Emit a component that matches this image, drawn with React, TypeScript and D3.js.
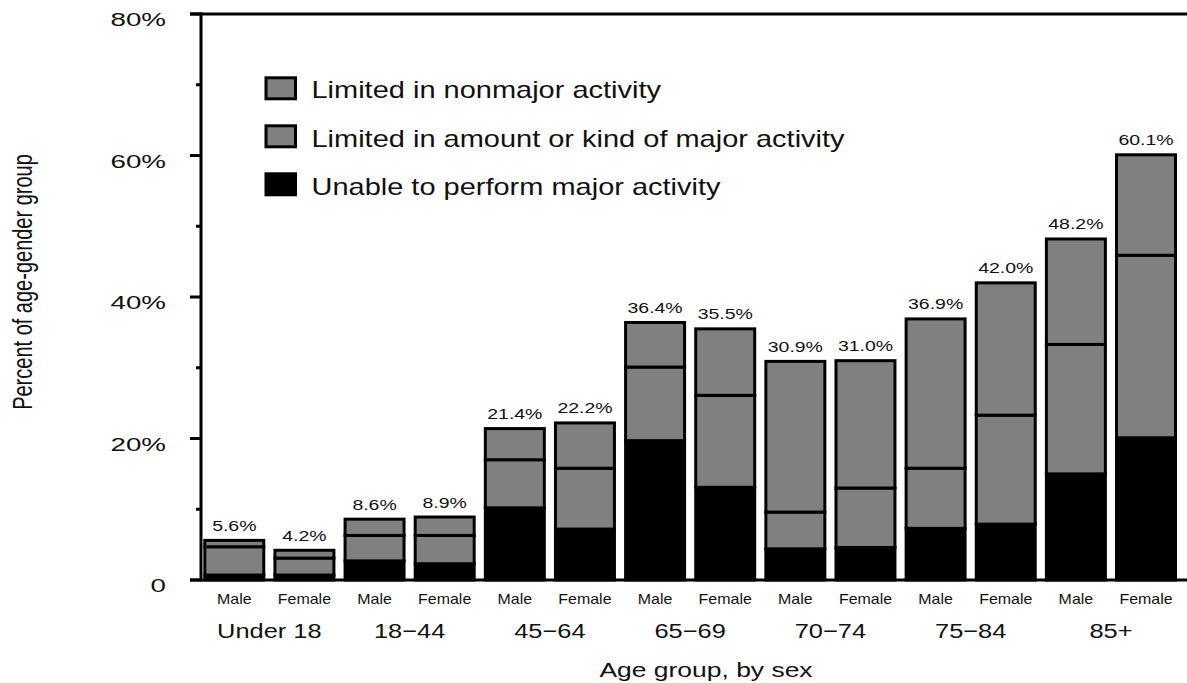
import React from "react";
import * as d3 from "d3";

const ageGroups = ["Under 18", "18\u221244", "45\u221264", "65\u221269", "70\u221274", "75\u221284", "85+"];
const sexes = ["Male", "Female"];
// per bar (Male, Female alternating per age group), percent of age-gender group
const unable = [0.7, 0.7, 2.7, 2.3, 10.2, 7.2, 19.7, 13.1, 4.4, 4.6, 7.3, 7.9, 15.0, 20.1];
const amountKind = [4.0, 2.4, 3.6, 4.0, 6.8, 8.6, 10.4, 13.0, 5.2, 8.4, 8.5, 15.4, 18.3, 25.8];
const nonmajor = [0.9, 1.1, 2.3, 2.6, 4.4, 6.4, 6.3, 9.4, 21.3, 18.0, 21.1, 18.7, 14.9, 14.2];

const seriesKeys = ["unable", "amountKind", "nonmajor"];
const seriesColors = ["#000000", "#808080", "#808080"];
const legendLabels = [
  "Limited in nonmajor activity",
  "Limited in amount or kind of major activity",
  "Unable to perform major activity",
];
const legendColors = ["#808080", "#808080", "#000000"];

const majorTicks = [0, 20, 40, 60, 80];
const majorTickLabels = ["0", "20%", "40%", "60%", "80%"];
const minorTicks = [10, 30, 50, 70];

const FONT = "'Liberation Sans', Arial, Helvetica, sans-serif";

type TProps = {
  x: number;
  y: number;
  sx?: number;
  sy?: number;
  rot?: number;
  anchor?: string;
  size: number;
  children: React.ReactNode;
};
function T({ x, y, sx = 1, sy = 1, rot = 0, anchor = "middle", size, children }: TProps) {
  return (
    <text
      transform={`translate(${x},${y}) rotate(${rot}) scale(${sx},${sy})`}
      textAnchor={anchor}
      fontSize={size}
      fontFamily={FONT}
      fill="#111"
    >
      {children}
    </text>
  );
}

export default function App() {
  const W = 1187;
  const H = 683;
  const rows = unable.map((u, i) => ({
    id: String(i),
    sex: sexes[i % 2],
    group: ageGroups[Math.floor(i / 2)],
    unable: u,
    amountKind: amountKind[i],
    nonmajor: nonmajor[i],
  }));
  const totals = rows.map((r) => r.unable + r.amountKind + r.nonmajor);

  const y = d3.scaleLinear().domain([0, 80]).range([580, 14]);
  const x = d3
    .scaleBand<string>()
    .domain(rows.map((r) => r.id))
    .range([204.8, 1175.5])
    .paddingInner(0.159)
    .paddingOuter(0);
  const bw = x.bandwidth();
  const stacked = d3.stack<any>().keys(seriesKeys)(rows);

  const axisX = 201;

  return (
    <svg
      width={W}
      height={H}
      style={{ position: "absolute", left: 0, top: 0, background: "#fff" }}
    >
      <rect x={0} y={0} width={W} height={H} fill="#fff" />
      {/* bars */}
      {stacked.map((s, si) => (
        <g key={s.key}>
          {s.map((d, i) => (
            <rect
              key={i}
              x={x(rows[i].id)}
              y={y(d[1])}
              width={bw}
              height={y(d[0]) - y(d[1])}
              fill={seriesColors[si]}
              stroke="#000"
              strokeWidth={3}
            />
          ))}
        </g>
      ))}
      {/* value labels */}
      {rows.map((r, i) => (
        <T key={i} x={(x(r.id) as number) + bw / 2} y={y(totals[i]) - 9.5} sx={1.39} size={14}>
          {totals[i].toFixed(1) + "%"}
        </T>
      ))}
      {/* axes */}
      <line x1={axisX} x2={axisX} y1={y(80) - 1.5} y2={y(0) + 1.5} stroke="#000" strokeWidth={3} />
      <line x1={190} x2={W} y1={y(80)} y2={y(80)} stroke="#000" strokeWidth={3} />
      <line x1={190} x2={W} y1={y(0)} y2={y(0)} stroke="#000" strokeWidth={3} />
      {majorTicks.map((t, i) => (
        <g key={t}>
          <line x1={190} x2={axisX} y1={y(t)} y2={y(t)} stroke="#000" strokeWidth={3} />
          <T x={166} y={y(t) + 12} sx={1.5} anchor="end" size={18.5}>
            {majorTickLabels[i]}
          </T>
        </g>
      ))}
      {minorTicks.map((t) => (
        <line key={t} x1={196} x2={axisX} y1={y(t)} y2={y(t)} stroke="#000" strokeWidth={3} />
      ))}
      {/* category labels */}
      {rows.map((r, i) => (
        <T key={i} x={(x(r.id) as number) + bw / 2} y={604.3} sx={1.14} size={14}>
          {r.sex}
        </T>
      ))}
      {ageGroups.map((g, gi) => {
        const a = x(String(gi * 2)) as number;
        const b = (x(String(gi * 2 + 1)) as number) + bw;
        return (
          <T key={g} x={(a + b) / 2} y={638.3} sx={1.24} size={20.5}>
            {g}
          </T>
        );
      })}
      {/* axis titles */}
      <T x={706} y={676.7} sx={1.26} size={21}>
        Age group, by sex
      </T>
      <T x={32} y={282} rot={-90} sy={1.4} size={20}>
        Percent of age-gender group
      </T>
      {/* legend */}
      {legendLabels.map((l, i) => {
        const cy = 88.3 + 48 * i;
        return (
          <g key={l}>
            <rect
              x={266}
              y={cy - 10.5}
              width={29.5}
              height={21}
              fill={legendColors[i]}
              stroke="#000"
              strokeWidth={3}
            />
            <T x={311.5} y={cy + 9.6 + 0.6 * i} sx={1.26} anchor="start" size={23}>
              {l}
            </T>
          </g>
        );
      })}
    </svg>
  );
}
